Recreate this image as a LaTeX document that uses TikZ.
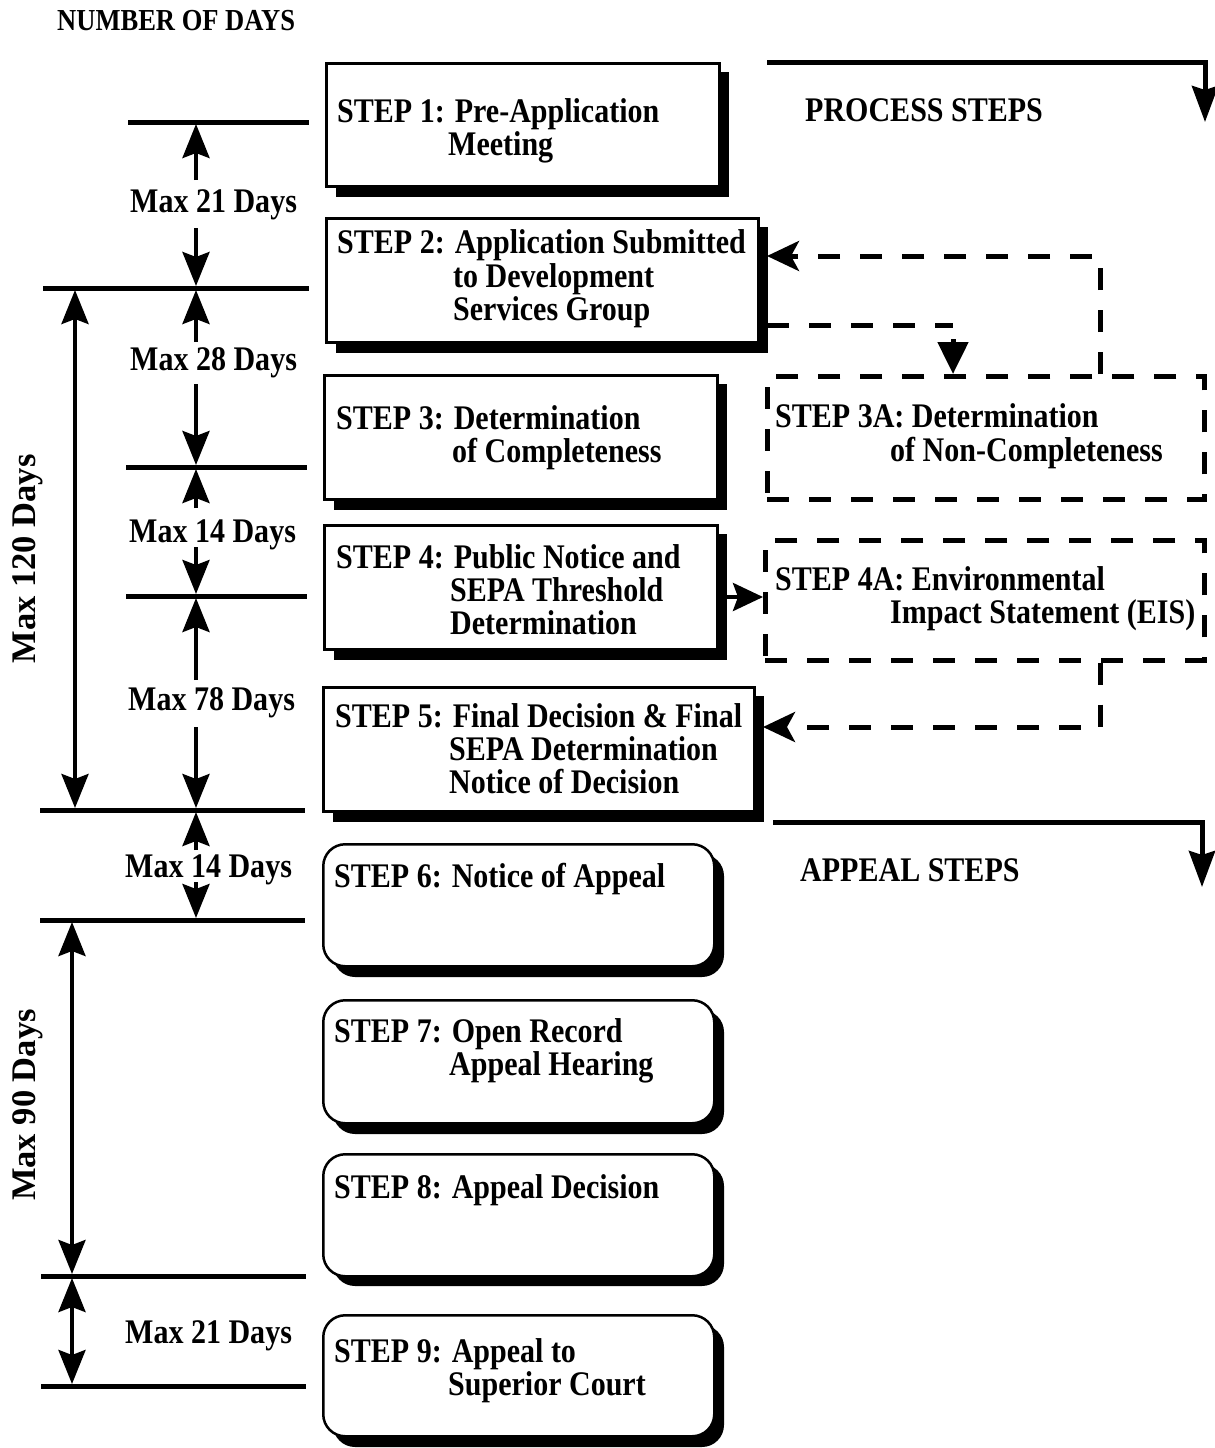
\documentclass[tikz,border=0pt]{standalone}
\usepackage{fontspec}
\setmainfont{Liberation Serif}[FakeStretch=0.87]
\newfontfamily\plainserif{Liberation Serif}
\usetikzlibrary{arrows.meta}
\newcommand{\boxf}{\fontsize{34.5}{38}\selectfont\bfseries}
\newcommand{\headf}{\fontsize{30.5}{33}\selectfont\bfseries}
\newcommand{\rotf}{\plainserif\fontsize{34.5}{37}\selectfont\bfseries}
\tikzset{
  txt/.style={anchor=base west, inner sep=0pt, font=\boxf},
  headtxt/.style={anchor=base west, inner sep=0pt, font=\headf},
  rottxt/.style={inner sep=0pt, rotate=90, font=\rotf},
  sqbox/.style={draw, line width=2.5pt, fill=white, inner sep=0pt, anchor=north west},
  rbox/.style={sqbox, rounded corners=22pt},
  dbox/.style={draw, line width=4.5pt, dash pattern=on 22pt off 20pt, inner sep=0pt, anchor=north west},
  shadowfill/.style={fill=black},
  hline/.style={line width=5pt},
  dimarrow/.style={line width=4pt, -{Stealth[length=34pt,width=27pt,inset=5pt]}},
  dimboth/.style={line width=4pt, {Stealth[length=34pt,width=27pt,inset=5pt]}-{Stealth[length=34pt,width=27pt,inset=5pt]}},
  parrow/.style={line width=5pt, -{Stealth[length=36pt,width=26pt,inset=4pt]}},
  dconn/.style={line width=5pt, dash pattern=on 22pt off 20pt},
  dtip/.style={-{Stealth[length=32pt,width=30pt,inset=8pt]}},
  ttip/.style={-{Triangle[length=32pt,width=30pt]}},
}
\begin{document}
\begin{tikzpicture}[x=1pt,y=-1pt]
\useasboundingbox (0,0) rectangle (1215,1448);

% ---------- headings ----------
\node[headtxt] (hnum) at (57,30) {NUMBER OF DAYS};
\node[txt] (hproc) at (805,121) {PROCESS STEPS};
\node[txt] (happ) at (800,881) {APPEAL STEPS};

% ---------- square step boxes with shadows ----------
\fill[shadowfill] (336,72) rectangle (729,197);
\node[sqbox, minimum width=393pt, minimum height=123pt] (s1) at (325,62) {};
\fill[shadowfill] (336,227) rectangle (768,353);
\node[sqbox, minimum width=432pt, minimum height=124pt] (s2) at (325,217) {};
\fill[shadowfill] (334,384) rectangle (727,510);
\node[sqbox, minimum width=393pt, minimum height=124pt] (s3) at (323,374) {};
\fill[shadowfill] (334,534) rectangle (727,660);
\node[sqbox, minimum width=393pt, minimum height=124pt] (s4) at (323,524) {};
\fill[shadowfill] (333,696) rectangle (764,822);
\node[sqbox, minimum width=431pt, minimum height=124pt] (s5) at (322,686) {};

% ---------- rounded step boxes with shadows ----------
\fill[shadowfill, rounded corners=22pt] (333,854) rectangle (724,977);
\node[rbox, minimum width=391pt, minimum height=122pt] (s6) at (322,843) {};
\fill[shadowfill, rounded corners=22pt] (333,1010) rectangle (724,1134);
\node[rbox, minimum width=391pt, minimum height=123pt] (s7) at (322,999) {};
\fill[shadowfill, rounded corners=22pt] (333,1164) rectangle (724,1286);
\node[rbox, minimum width=391pt, minimum height=122pt] (s8) at (322,1153) {};
\fill[shadowfill, rounded corners=22pt] (333,1325) rectangle (724,1447);
\node[rbox, minimum width=391pt, minimum height=121pt] (s9) at (322,1314) {};

% ---------- dashed boxes ----------
\node[dbox, minimum width=437pt, minimum height=123pt] (s3a) at (765,374) {};
\node[dbox, minimum width=439pt, minimum height=120pt] (s4a) at (763,538) {};

% ---------- box texts ----------
\node[txt] (t1a) at (337,122) {STEP 1: Pre-Application};
\node[txt] (t1b) at (448,155) {Meeting};
\node[txt] (t2a) at (337,253) {STEP 2: Application Submitted};
\node[txt] (t2b) at (453,287) {to Development};
\node[txt] (t2c) at (453,320) {Services Group};
\node[txt] (t3a) at (336,429) {STEP 3: Determination};
\node[txt] (t3b) at (452,462) {of Completeness};
\node[txt] (t4a) at (336,568) {STEP 4: Public Notice and};
\node[txt] (t4b) at (450,601) {SEPA Threshold};
\node[txt] (t4c) at (450,634) {Determination};
\node[txt] (t5a) at (335,727) {STEP 5: Final Decision \& Final};
\node[txt] (t5b) at (449,760) {SEPA Determination};
\node[txt] (t5c) at (449,793) {Notice of Decision};
\node[txt] (t6a) at (334,887) {STEP 6: Notice of Appeal};
\node[txt] (t7a) at (334,1042) {STEP 7: Open Record};
\node[txt] (t7b) at (449,1075) {Appeal Hearing};
\node[txt] (t8a) at (334,1198) {STEP 8: Appeal Decision};
\node[txt] (t9a) at (334,1362) {STEP 9: Appeal to};
\node[txt] (t9b) at (448,1395) {Superior Court};
\node[txt] (t3aa) at (775,427) {STEP 3A: Determination};
\node[txt] (t3ab) at (890,461) {of Non-Completeness};
\node[txt] (t4aa) at (775,590) {STEP 4A: Environmental};
\node[txt] (t4ab) at (890,623) {Impact Statement (EIS)};

% ---------- process / appeal arrows ----------
\coordinate (p0) at (767,62);
\coordinate (p1) at (1205,62);
\coordinate (p2) at (1205,122);
\draw[parrow] (p0) -- (p1) -- (p2);
\coordinate (a0) at (773,822);
\coordinate (a1) at (1202,822);
\coordinate (a2) at (1202,887);
\draw[parrow] (a0) -- (a1) -- (a2);

% ---------- connectors between boxes ----------
\coordinate (k1) at (1100,256);
\coordinate (k2) at (767,256);
\draw[dconn, dtip] (k1 |- s3a.north) -- (k1) -- (k2);
\coordinate (k3) at (767,325);
\coordinate (k4) at (953,325);
\draw[dconn] (k3) -- (k4);
\draw[line width=5pt, ttip] (k4) ++(0,14) coordinate (k4b) -- (k4b |- s3a.north);
\coordinate (s4r) at (726,597);
\draw[line width=4pt, -{Stealth[length=30pt,width=28pt,inset=5pt]}] (s4r) -- (s4r -| s4a.west);
\coordinate (k5) at (1100,727);
\coordinate (k6) at (763,727);
\draw[dconn, dtip] (k5 |- s4a.south) -- (k5) -- (k6);

% ---------- day scale: horizontal marks ----------
\draw[hline] (128,122) -- (309,122);
\draw[hline] (43,288) -- (309,288);
\draw[hline] (126,467) -- (307,467);
\draw[hline] (126,596) -- (307,596);
\draw[hline] (40,810) -- (305,810);
\draw[hline] (40,920) -- (305,920);
\draw[hline] (41,1276) -- (306,1276);
\draw[hline] (41,1386) -- (306,1386);

% ---------- day labels ----------
\node[txt] (d21) at (130,212) {Max 21 Days};
\node[txt] (d28) at (130,370) {Max 28 Days};
\node[txt] (d14) at (129,542) {Max 14 Days};
\node[txt] (d78) at (128,710) {Max 78 Days};
\node[txt] (d14b) at (125,877) {Max 14 Days};
\node[txt] (d21b) at (125,1343) {Max 21 Days};
\node[rottxt] (d120) at (28,559) {Max 120 Days};
\node[rottxt] (d90) at (28,1105) {Max 90 Days};

% ---------- day arrows ----------
\draw[dimarrow] (196,180) -- (196,124);
\draw[dimarrow] (196,228) -- (196,286);
\draw[dimarrow] (196,342) -- (196,290);
\draw[dimarrow] (196,384) -- (196,465);
\draw[dimarrow] (196,508) -- (196,469);
\draw[dimarrow] (196,547) -- (196,594);
\draw[dimarrow] (196,680) -- (196,598);
\draw[dimarrow] (196,727) -- (196,808);
\draw[dimarrow] (196,850) -- (196,812);
\draw[dimarrow] (196,882) -- (196,918);
\draw[dimboth] (75,290) -- (75,808);
\draw[dimboth] (72,922) -- (72,1274);
\draw[dimboth] (72,1278) -- (72,1384);
\end{tikzpicture}
\end{document}
